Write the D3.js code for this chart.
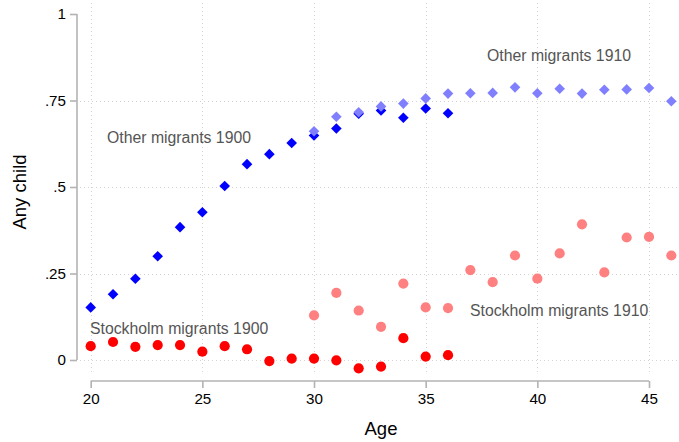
<!DOCTYPE html>
<html>
<head>
<meta charset="utf-8">
<script src="https://cdn.jsdelivr.net/npm/d3@7"></script>
<style>
  html, body { margin: 0; padding: 0; background: #fff; }
  svg { display: block; font-family: "Liberation Sans", Arial, Helvetica, sans-serif; }
</style>
</head>
<body>
<svg id="chart" width="679" height="442"></svg>
<script>
// Share of women with any child, by age
const ages1900 = [20, 21, 22, 23, 24, 25, 26, 27, 28, 29, 30, 31, 32, 33, 34, 35, 36];
const ages1910 = [30, 31, 32, 33, 34, 35, 36, 37, 38, 39, 40, 41, 42, 43, 44, 45, 46];

const other1900 = [0.152, 0.190, 0.235, 0.300, 0.384, 0.427, 0.503, 0.566, 0.595, 0.627,
                   0.649, 0.669, 0.712, 0.721, 0.700, 0.727, 0.713];
const stockholm1900 = [0.040, 0.052, 0.038, 0.043, 0.043, 0.024, 0.040, 0.031, -0.003, 0.004,
                       0.004, -0.001, -0.024, -0.019, 0.063, 0.010, 0.014];
const other1910 = [0.661, 0.703, 0.716, 0.733, 0.741, 0.756, 0.770, 0.771, 0.772, 0.788,
                   0.771, 0.784, 0.770, 0.781, 0.782, 0.786, 0.748];
const stockholm1910 = [0.129, 0.194, 0.143, 0.096, 0.221, 0.152, 0.150, 0.260, 0.225, 0.302,
                       0.235, 0.308, 0.392, 0.253, 0.354, 0.356, 0.302];

const xTicks = [20, 25, 30, 35, 40, 45];
const yTicks = [0, 0.25, 0.5, 0.75, 1];
const yTickLabels = ["0", ".25", ".5", ".75", "1"];
const yGrid = [0, 0.25, 0.5, 0.75];

const svg = d3.select("#chart");
const x = d3.scaleLinear().domain([20, 45]).range([90.7, 649]);
const y = d3.scaleLinear().domain([0, 1]).range([360, 14]);

// plot region bounds for the grid
const gx0 = 80, gx1 = 679, gy0 = 3, gy1 = 373;

const grid = svg.append("g")
  .attr("stroke", "#d4d4d4").attr("stroke-width", 1).attr("stroke-dasharray", "1,3");
grid.selectAll("line.h").data(yGrid).join("line")
  .attr("x1", gx0).attr("x2", gx1)
  .attr("y1", d => Math.round(y(d)) + 0.5).attr("y2", d => Math.round(y(d)) + 0.5);
grid.selectAll("line.v").data(xTicks).join("line")
  .attr("y1", gy0).attr("y2", gy1)
  .attr("x1", d => Math.round(x(d)) + 0.5).attr("x2", d => Math.round(x(d)) + 0.5);

// axes
const axisColor = "#b3b3b3";
const yAxis = svg.append("g").attr("transform", "translate(77,0)")
  .call(d3.axisLeft(y).tickValues(yTicks).tickSize(7).tickPadding(4)
    .tickFormat((d, i) => yTickLabels[i]));
const xAxis = svg.append("g").attr("transform", "translate(0,381)")
  .call(d3.axisBottom(x).tickValues(xTicks).tickSize(7).tickPadding(5)
    .tickFormat(d3.format("d")));
[yAxis, xAxis].forEach(a => {
  a.select(".domain").attr("stroke", axisColor).attr("stroke-width", 1.6)
    .attr("d", a === yAxis ? `M0,${y(1)}V${y(0)}` : `M${x(20)},0H${x(45)}`);
  a.selectAll(".tick line").attr("stroke", axisColor).attr("stroke-width", 1.6);
  a.selectAll(".tick text").attr("fill", "#000").attr("font-size", 15.2)
    .attr("font-family", "'Liberation Sans', Arial, sans-serif");
});

// axis titles
svg.append("text").attr("x", 381).attr("y", 435).attr("text-anchor", "middle")
  .attr("font-size", 18.5).attr("fill", "#000").text("Age");
svg.append("text").attr("transform", "translate(26,192) rotate(-90)")
  .attr("text-anchor", "middle").attr("font-size", 18.5).attr("fill", "#000").text("Any child");

// markers
const diamond = d3.symbol().type(d3.symbolDiamond2).size(72);
function drawDiamonds(ages, vals, color) {
  svg.append("g").selectAll("path").data(ages).join("path")
    .attr("d", diamond)
    .attr("transform", (d, i) => `translate(${x(d)},${y(vals[i])})`)
    .attr("fill", color);
}
function drawCircles(ages, vals, color) {
  svg.append("g").selectAll("circle").data(ages).join("circle")
    .attr("cx", d => x(d)).attr("cy", (d, i) => y(vals[i])).attr("r", 5.1)
    .attr("fill", color);
}
drawDiamonds(ages1900, other1900, "#0000ff");
drawCircles(ages1900, stockholm1900, "#ff0000");
drawDiamonds(ages1910, other1910, "#8080ff");
drawCircles(ages1910, stockholm1910, "#ff8080");

// series labels
const labels = [
  { text: "Other migrants 1900", x: 107, y: 142.5 },
  { text: "Other migrants 1910", x: 487, y: 60.5 },
  { text: "Stockholm migrants 1900", x: 90, y: 333.5 },
  { text: "Stockholm migrants 1910", x: 470, y: 315.5 }
];
svg.append("g").selectAll("text").data(labels).join("text")
  .attr("x", d => d.x).attr("y", d => d.y)
  .attr("font-size", 15.8).attr("fill", "#555555")
  .text(d => d.text);
</script>
</body>
</html>
